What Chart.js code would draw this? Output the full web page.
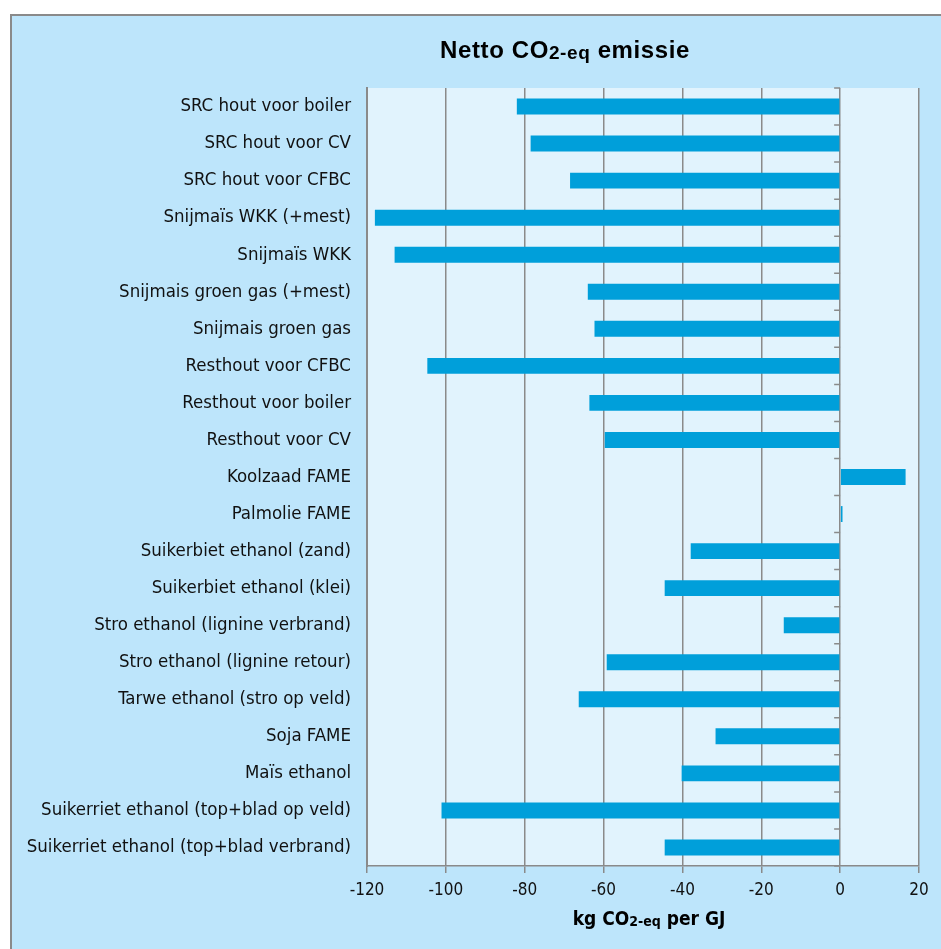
<!DOCTYPE html>
<html><head><meta charset="utf-8">
<script src="https://cdn.jsdelivr.net/npm/chart.js@4.4.0/dist/chart.umd.min.js"></script>
<style>html,body{margin:0;padding:0;background:#fff;}#wrap{width:941px;height:949px;position:relative;}</style>
</head><body><div id="wrap"><canvas id="c" width="941" height="949"></canvas></div>
<script>
const categories = [
  "SRC hout voor boiler","SRC hout voor CV","SRC hout voor CFBC","Snijmaïs WKK (+mest)","Snijmaïs WKK",
  "Snijmais groen gas (+mest)","Snijmais groen gas","Resthout voor CFBC","Resthout voor boiler","Resthout voor CV",
  "Koolzaad FAME","Palmolie FAME","Suikerbiet ethanol (zand)","Suikerbiet ethanol (klei)",
  "Stro ethanol (lignine verbrand)","Stro ethanol (lignine retour)","Tarwe ethanol (stro op veld)",
  "Soja FAME","Maïs ethanol","Suikerriet ethanol (top+blad op veld)","Suikerriet ethanol (top+blad verbrand)"
];
const emissions = [-82,-78.5,-68.5,-118,-113,-64,-62.3,-104.7,-63.6,-59.7,16.6,0.6,-37.9,-44.5,-14.3,-59.2,-66.3,-31.6,-40.2,-101.1,-44.5];
const xTicks = [-120,-100,-80,-60,-40,-20,0,20];
const titleParts = [["Netto CO",false],["2-eq",true],[" emissie",false]];
const axisTitleParts = [["kg CO",false],["2-eq",true],[" per GJ",false]];

const LABEL_FONT = "'DejaVu Sans Condensed','DejaVu Sans',sans-serif";

function drawParts(ctx, parts, cx, baseline, big, small, family, subShift, spacing){
  ctx.letterSpacing = spacing+'px';
  let total = 0;
  const widths = parts.map(([t,s])=>{ctx.font = "bold "+(s?small:big)+"px "+family; const w=ctx.measureText(t).width; total+=w; return w;});
  let x = cx - total/2;
  ctx.textAlign='left'; ctx.textBaseline='alphabetic'; ctx.fillStyle='#000';
  parts.forEach(([t,s],i)=>{ctx.font = "bold "+(s?small:big)+"px "+family; ctx.fillText(t,x,baseline+(s?subShift:0)); x+=widths[i];});
  ctx.letterSpacing = '0px';
}

const decor = {
  id:'decor',
  beforeDraw(chart){
    const ctx=chart.ctx, a=chart.chartArea;
    ctx.save();
    ctx.fillStyle='#fff'; ctx.fillRect(0,0,chart.width,chart.height);
    ctx.fillStyle='#bde5fb'; ctx.fillRect(10,14,chart.width-10,chart.height-14);
    ctx.strokeStyle='#8a8a8a'; ctx.lineWidth=2;
    ctx.beginPath(); ctx.moveTo(11,chart.height); ctx.lineTo(11,15); ctx.lineTo(chart.width,15); ctx.stroke();
    ctx.fillStyle='#e1f3fd'; ctx.fillRect(a.left,a.top,a.right-a.left,a.bottom-a.top);
    ctx.restore();
  },
  afterDraw(chart){
    const ctx=chart.ctx, a=chart.chartArea, xs=chart.scales.x;
    ctx.save();
    const x0=xs.getPixelForValue(0);
    ctx.strokeStyle='#8a8a8a'; ctx.lineWidth=1.5;
    const n=categories.length, step=(a.bottom-a.top)/n;
    ctx.beginPath();
    for(let i=0;i<=n;i++){const y=a.top+i*step; ctx.moveTo(x0-6,y); ctx.lineTo(x0,y);}
    ctx.stroke();
    drawParts(ctx,titleParts,565,58,24,19,"'Liberation Sans',Arial,sans-serif",1,0.6);
    drawParts(ctx,axisTitleParts,649,925,19,14,LABEL_FONT,1,0);
    ctx.restore();
  }
};

new Chart(document.getElementById('c'),{
  type:'bar',
  data:{labels:categories,datasets:[{data:emissions,backgroundColor:'#009fda',borderWidth:0,barPercentage:0.43,categoryPercentage:1}]},
  options:{
    indexAxis:'y',responsive:false,animation:false,devicePixelRatio:1,
    layout:{padding:{top:88,right:22,left:0,bottom:0}},
    plugins:{legend:{display:false},tooltip:{enabled:false},title:{display:false}},
    scales:{
      x:{type:'linear',min:-120,max:20,
        afterBuildTicks(s){s.ticks=xTicks.map(v=>({value:v}));},
        afterFit(s){s.height=83;},
        grid:{color:'#8a8a8a',lineWidth:1.5,tickLength:7,drawTicks:true},
        border:{color:'#8a8a8a',width:1.5},
        ticks:{color:'#111',font:{family:LABEL_FONT,size:17},padding:7,maxRotation:0}
      },
      y:{
        afterFit(s){s.width=367;},
        grid:{display:false,drawTicks:false},
        border:{color:'#8a8a8a',width:2},
        ticks:{color:'#111',font:{family:LABEL_FONT,size:18.5},padding:16,autoSkip:false}
      }
    }
  },
  plugins:[decor]
});
</script></body></html>
